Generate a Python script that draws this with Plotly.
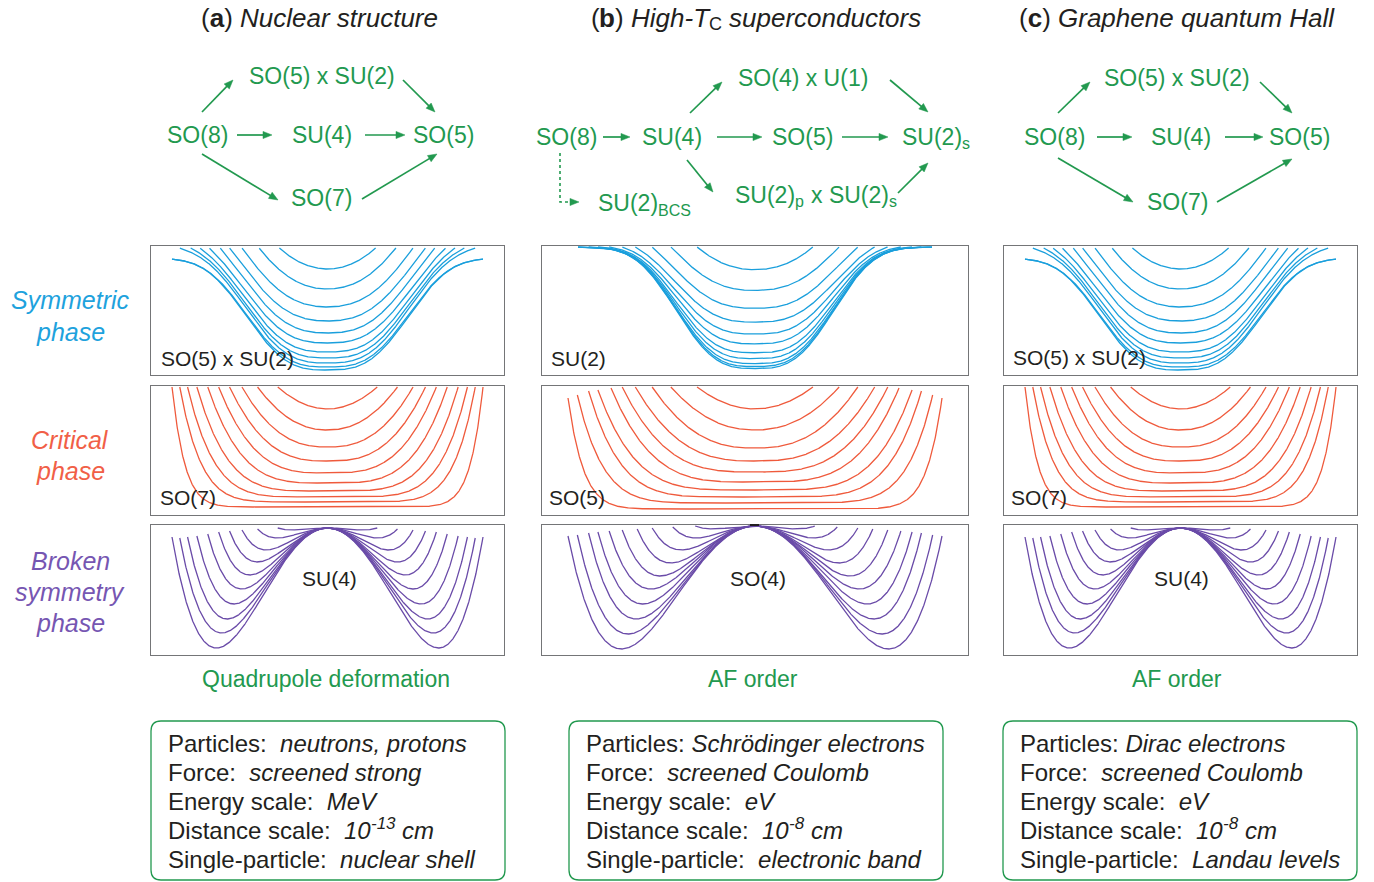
import numpy as np
import plotly.graph_objects as go

W, H = 1374, 882

# ===================== chart data =====================
col_titles = ["(<b>a</b>) <i>Nuclear structure</i>", None, "(<b>c</b>) <i>Graphene quantum Hall</i>"]
phase_labels = [["Symmetric", "phase"], ["Critical", "phase"], ["Broken", "symmetry", "phase"]]
limit_labels = [["SO(5) x SU(2)", "SO(7)", "SU(4)"],
                ["SU(2)", "SO(5)", "SO(4)"],
                ["SO(5) x SU(2)", "SO(7)", "SU(4)"]]
order_labels = ["Quadrupole deformation", "AF order", "AF order"]
info_keys = ["Particles:", "Force:", "Energy scale:", "Distance scale:", "Single-particle:"]
info_vals = [
    ["\u00a0neutrons, protons", "\u00a0screened strong", "\u00a0MeV", None, "\u00a0nuclear shell"],
    ["Schrödinger electrons", "\u00a0screened Coulomb", "\u00a0eV", None, "\u00a0electronic band"],
    ["Dirac electrons", "\u00a0screened Coulomb", "\u00a0eV", None, "\u00a0Landau levels"],
]
distance_exp = ["-13", "-8", "-8"]

# Symmetric phase: well depth below the asymptote, and deformation where each curve leaves the frame
sym_depth_a = [11, 31, 49, 63, 75, 85, 94, 100, 105, 109, 112]
sym_reach_a = [0.31, 0.44, 0.55, 0.63, 0.69, 0.76, 0.82, 0.88, 0.95, None, None]
sym_depth_b = [23, 44, 62, 76, 88, 98, 107, 113, 118, 121, 123]
sym_reach_b = [0.31, 0.45, 0.55, 0.64, 0.71, 0.78, 0.84, 0.89, None, None, None]

# Critical phase: minimum energy, edge deformation, edge energy and flatness exponent
crit_min_a = [98, 77, 60, 46, 34, 24, 16, 10, 5, 0]
crit_edge_a = [0.32, 0.45, 0.55, 0.63, 0.70, 0.77, 0.84, 0.90, 0.95, 1.00]
crit_top_a = [120, 120, 120, 120, 120, 120, 120, 120, 120, 120]
crit_min_b = [100, 79, 61, 48, 37, 27, 19, 12, 6, 0]
crit_edge_b = [0.31, 0.45, 0.55, 0.64, 0.71, 0.77, 0.84, 0.89, 0.95, 1.00]
crit_top_b = [122, 122, 122, 122, 122, 121, 119, 118, 114, 111]
crit_power = [2.0, 2.2, 2.5, 2.8, 3.2, 3.7, 4.4, 5.4, 7.0, 12.0]

# Broken symmetry phase: well depth below the barrier top, edge deformation, edge energy
brk_depth_a = [2, 10, 22, 34, 47, 61, 76, 91, 105, 120]
brk_edge_a = [0.32, 0.45, 0.55, 0.63, 0.70, 0.77, 0.84, 0.90, 0.95, 1.00]
brk_end_a = [0, 1, 2, 3, 4, 6, 8, 9, 10, 9]
brk_depth_b = [3, 12, 24, 37, 50, 63, 78, 93, 108, 123]
brk_edge_b = [0.32, 0.44, 0.55, 0.63, 0.71, 0.78, 0.84, 0.89, 0.95, 1.00]
brk_end_b = [0, 1, 2, 3, 4, 5, 6, 7, 9, 10]

# ===================== styles / layout =====================
FONT = "Liberation Sans, Arial, Helvetica, sans-serif"
GREEN = "#22994f"
DARK = "#231f20"
BLUE = "#1a9fdc"
RED = "#ef5a3c"
PURPLE = "#6a4ba8"
FRAME = "#747577"
phase_colors = [BLUE, RED, PURPLE]
phase_label_colors = ["#1ea2dd", "#f15f47", "#7656b2"]

col_x = [(151, 504), (542, 968), (1004, 1357)]
row_y = [(246, 375), (386, 515), (525, 655)]
col_half = [155.5, 187.0, 155.5]            # curve half-extent in px per column
sym_sigma = [0.60, 0.486, 0.60]
sym_pow = 3.0
sym_clip = [10, 0, 10]
sym_yr = [(-117, 12), (-129.5, 1), (-117, 12)]
crit_yr = [(-8, 121), (-6, 123), (-8, 121)]
brk_yr = [(-127, 3), (-129, 1), (-127, 3)]


def sym_curves(depths, reaches, sigma, clip, xmax):
    out = []
    x = np.linspace(-xmax, xmax, 1501)
    for D, r in zip(depths, reaches):
        Q = 0.0 if r is None else (clip + D * np.exp(-np.abs(r / sigma) ** sym_pow)) / r ** 2
        E = -D * np.exp(-np.abs(x / sigma) ** sym_pow) + Q * x ** 2
        E = np.where(E > clip, np.nan, E)
        out.append((x, E))
    return out


def crit_curves(mins, edges, tops, powers):
    out = []
    for m, r, T, n in zip(mins, edges, tops, powers):
        x = np.linspace(-r, r, 801)
        E = m + (T - m) * np.abs(x / r) ** n
        out.append((x, E))
    return out


def brk_curves(depths, edges, ends):
    out = []
    for d, r, e in zip(depths, edges, ends):
        u = 1 + np.sqrt(max(0.0, 1 - e / d))
        x0 = r / np.sqrt(u)
        x = np.linspace(-r, r, 801)
        s = (x / x0) ** 2
        E = d * (s ** 2 - 2 * s)
        out.append((x, E))
    return out


families = [
    [sym_curves(sym_depth_a, sym_reach_a, sym_sigma[0], sym_clip[0], 1.0),
     crit_curves(crit_min_a, crit_edge_a, crit_top_a, crit_power),
     brk_curves(brk_depth_a, brk_edge_a, brk_end_a)],
    [sym_curves(sym_depth_b, sym_reach_b, sym_sigma[1], sym_clip[1], 177 / 187),
     crit_curves(crit_min_b, crit_edge_b, crit_top_b, crit_power),
     brk_curves(brk_depth_b, brk_edge_b, brk_end_b)],
    [sym_curves(sym_depth_a, sym_reach_a, sym_sigma[2], sym_clip[2], 1.0),
     crit_curves(crit_min_a, crit_edge_a, crit_top_a, crit_power),
     brk_curves(brk_depth_a, brk_edge_a, brk_end_a)],
]
yranges = [sym_yr, crit_yr, brk_yr]

fig = go.Figure()
layout_axes = {}
k = 0
for c in range(3):
    x0p, x1p = col_x[c]
    half = (x1p - x0p) / 2 / col_half[c]
    for r in range(3):
        k += 1
        y0p, y1p = row_y[r]
        xa = "x" if k == 1 else f"x{k}"
        ya = "y" if k == 1 else f"y{k}"
        for (x, E) in families[c][r]:
            fig.add_trace(go.Scatter(x=x, y=E, mode="lines", xaxis=xa, yaxis=ya,
                                     line=dict(color=phase_colors[r], width=1.3),
                                     hoverinfo="skip", showlegend=False))
        axcommon = dict(showgrid=False, zeroline=False, showticklabels=False, ticks="",
                        showline=True, mirror=True, linecolor=FRAME, linewidth=1.3, fixedrange=True)
        layout_axes["xaxis" if k == 1 else f"xaxis{k}"] = dict(
            domain=[x0p / W, x1p / W], range=[-half, half], anchor=ya, **axcommon)
        layout_axes["yaxis" if k == 1 else f"yaxis{k}"] = dict(
            domain=[1 - y1p / H, 1 - y0p / H], range=list(yranges[r][c]), anchor=xa, **axcommon)

fig.update_layout(**layout_axes)

ann = []
shapes = []

# Arial / Liberation Sans advance widths (per 1000 em)
AW = dict(zip("abcdefghijklmnopqrstuvwxyz",
              [556, 556, 500, 556, 556, 278, 556, 556, 222, 222, 500, 222, 833, 556, 556, 556, 556,
               333, 500, 278, 556, 500, 722, 500, 500, 500]))
AW.update(dict(zip("ABCDEFGHIJKLMNOPQRSTUVWXYZ",
                   [667, 667, 722, 722, 667, 611, 778, 722, 278, 500, 667, 556, 833, 722, 778, 667,
                    778, 722, 667, 611, 722, 667, 944, 667, 667, 611])))
AW.update({c: 556 for c in "0123456789"})
AW.update({" ": 278, "\u00a0": 278, "(": 333, ")": 333, "-": 333, ":": 278, ",": 278, ".": 278})
AWB = dict(AW)
AWB.update({"b": 611, "c": 556})


def tw(s, size, bold=False):
    tab = AWB if bold else AW
    return sum(tab.get(ch, 556) for ch in s) * size / 1000.0


def P(x, y):
    return f"{x / W:.6f} {1 - y / H:.6f}"


def txt(s, x, y, size, color=DARK, xanchor="center", yanchor="middle"):
    ann.append(dict(text=s, x=x / W, y=1 - y / H, xref="paper", yref="paper",
                    showarrow=False, xanchor=xanchor, yanchor=yanchor,
                    font=dict(family=FONT, size=size, color=color)))


def rich(x, y, runs, color, anchor="left"):
    """runs: (text, size, dy, fmt) laid out side by side (used for sub/superscripts)."""
    total = sum(tw(t, s, f == "b") for t, s, dy, f in runs)
    cx = x if anchor == "left" else x - total / 2
    for t, s, dy, f in runs:
        lead = len(t) - len(t.lstrip(" \u00a0"))
        body = t.strip(" \u00a0")
        if body:
            h = {"i": f"<i>{body}</i>", "b": f"<b>{body}</b>"}.get(f, body)
            txt(h, cx + tw(t[:lead], s, f == "b"), y + dy, s, color, xanchor="left")
        cx += tw(t, s, f == "b")


def arrow(xt, yt, xh, yh, dash=None, head=True):
    L = np.hypot(xh - xt, yh - yt)
    ux, uy = (xh - xt) / L, (yh - yt) / L
    hl, hw = 9.0, 3.6
    bx, by = xh - ux * hl, yh - uy * hl
    shapes.append(dict(type="path", xref="paper", yref="paper",
                       path=f"M {P(xt, yt)} L {P(bx + ux * 1.5, by + uy * 1.5)}",
                       line=dict(color=GREEN, width=1.7, dash=dash or "solid")))
    if head:
        px_, py_ = -uy, ux
        shapes.append(dict(type="path", xref="paper", yref="paper",
                           path=(f"M {P(xh, yh)} L {P(bx + px_ * hw, by + py_ * hw)} "
                                 f"L {P(bx - px_ * hw, by - py_ * hw)} Z"),
                           fillcolor=GREEN, line=dict(color=GREEN, width=0.5)))


# column titles
TS = 26
txt(col_titles[0], 319, 18, TS)
txt(col_titles[2], 1177, 18, TS)
rich(754, 18, [("(", TS, 0, ""), ("b", TS, 0, "b"), (") ", TS, 0, ""), ("High-T", TS, 0, "i"),
               ("C", 18, 6, ""), (" superconductors", TS, 0, "i")], DARK, anchor="center")

# group chains
GS = 23
SS = 16
nodes = [
    [("SO(5) x SU(2)", 322, 76), ("SO(8)", 197, 135), ("SU(4)", 322, 135),
     ("SO(5)", 443, 135), ("SO(7)", 321, 198)],
    [("SO(8)", 566, 137), ("SU(4)", 672, 137), ("SO(5)", 802, 137), ("SO(4) x U(1)", 803, 78)],
    [("SO(5) x SU(2)", 1177, 78), ("SO(8)", 1054, 137), ("SU(4)", 1181, 137),
     ("SO(5)", 1299, 137), ("SO(7)", 1177, 202)],
]
for col in nodes:
    for s, x, y in col:
        txt(s, x, y, GS, GREEN)
rich(934, 137, [("SU(2)", GS, 0, ""), ("s", SS, 6, "")], GREEN, anchor="center")
rich(814, 195, [("SU(2)", GS, 0, ""), ("p", SS, 6, ""), (" x SU(2)", GS, 0, ""), ("s", SS, 6, "")],
     GREEN, anchor="center")
rich(642, 203, [("SU(2)", GS, 0, ""), ("BCS", SS, 7, "")], GREEN, anchor="center")

arrows = [
    (202, 112, 233, 80), (237, 135, 272, 135), (365, 135, 405, 135), (403, 80, 435, 112),
    (202, 154, 278, 200), (362, 199, 437, 154),
    (603, 137, 630, 137), (717, 137, 762, 137), (842, 137, 888, 137), (690, 113, 722, 82),
    (890, 80, 928, 112), (687, 160, 713, 192), (898, 193, 928, 163),
    (1058, 113, 1090, 82), (1097, 137, 1132, 137), (1225, 137, 1263, 137), (1260, 82, 1292, 113),
    (1058, 158, 1133, 202), (1217, 202, 1292, 159),
]
for a in arrows:
    arrow(*a)

# dotted connector SO(8) -> SU(2)BCS
shapes.append(dict(type="path", xref="paper", yref="paper",
                   path=f"M {P(560, 153)} L {P(560, 202)} L {P(572, 202)}",
                   line=dict(color=GREEN, width=1.6, dash="dot")))
arrow(570, 202, 579, 202, head=True)

# phase labels (left)
ph_rows = [[300, 332], [440, 471], [561, 592, 623]]
for r in range(3):
    for s, y in zip(phase_labels[r], ph_rows[r]):
        txt(f"<i>{s}</i>", 70, y, 25, phase_label_colors[r])

# limit labels inside panels
PL = 21
lab_pos = [[(159, 358, "left"), (158, 497, "left"), (329, 578, "center")],
           [(549, 358, "left"), (547, 498, "left"), (758, 578, "center")],
           [(1011, 357, "left"), (1009, 497, "left"), (1181, 578, "center")]]
for c in range(3):
    for r in range(3):
        x, y, xa = lab_pos[c][r]
        txt(limit_labels[c][r], x, y, PL, DARK, xanchor=xa)

# small dark mark at the barrier top of panel (b)
shapes.append(dict(type="path", xref="paper", yref="paper",
                   path=f"M {P(750, 525)} L {P(759, 525)}",
                   line=dict(color=DARK, width=2)))

# order parameter labels
for s, xc in zip(order_labels, [326, 753, 1177]):
    txt(s, xc, 679, 23, GREEN)

# info boxes
boxes = [(151, 721, 505, 880), (569, 721, 943, 880), (1003, 721, 1357, 880)]
rad = 10
for (bx0, by0, bx1, by1) in boxes:
    path = (f"M {P(bx0+rad, by0)} L {P(bx1-rad, by0)} Q {P(bx1, by0)} {P(bx1, by0+rad)} "
            f"L {P(bx1, by1-rad)} Q {P(bx1, by1)} {P(bx1-rad, by1)} "
            f"L {P(bx0+rad, by1)} Q {P(bx0, by1)} {P(bx0, by1-rad)} "
            f"L {P(bx0, by0+rad)} Q {P(bx0, by0)} {P(bx0+rad, by0)} Z")
    shapes.append(dict(type="path", xref="paper", yref="paper", path=path,
                       line=dict(color=GREEN, width=1.3)))

IS = 24
info_x = [166, 584, 1018]
info_y = [743, 772, 801, 830, 859]
for c in range(3):
    for i in range(5):
        if info_vals[c][i] is None:
            rich(info_x[c], info_y[i], [(info_keys[i] + "  ", IS, 0, ""), ("10", IS, 0, "i"),
                                        (distance_exp[c], 17, -7, "i"), (" cm", IS, 0, "i")], DARK)
        else:
            txt(f"{info_keys[i]} <i>{info_vals[c][i]}</i>", info_x[c], info_y[i], IS, DARK,
                xanchor="left")

fig.update_layout(
    width=W, height=H, margin=dict(l=0, r=0, t=0, b=0),
    paper_bgcolor="white", plot_bgcolor="white",
    showlegend=False, annotations=ann, shapes=shapes,
    font=dict(family=FONT, color=DARK),
)

fig.write_html("out.html", config={"displayModeBar": False})
